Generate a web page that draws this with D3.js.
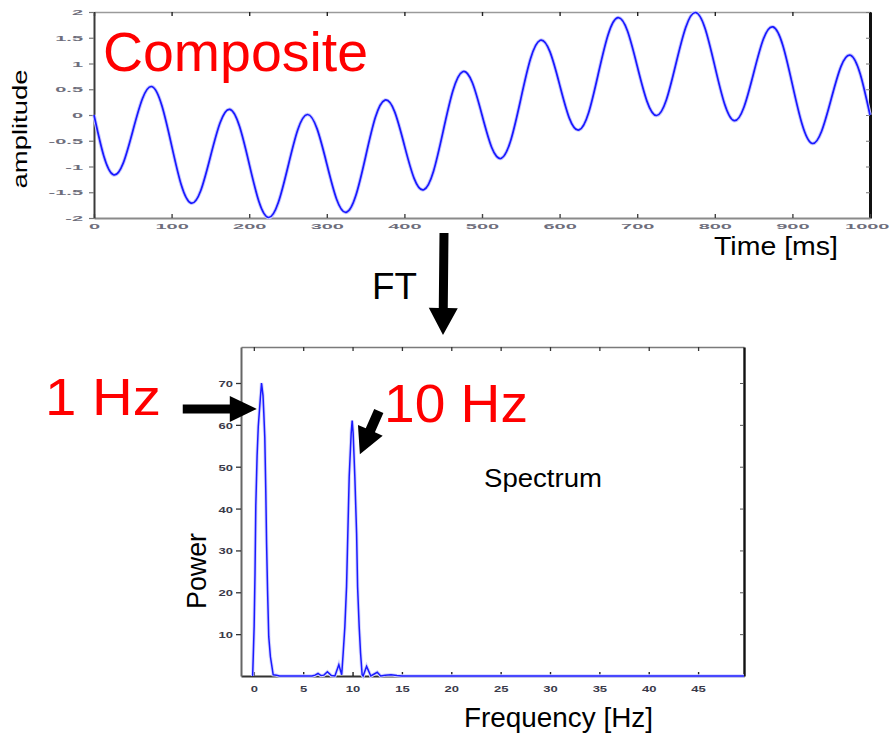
<!DOCTYPE html>
<html>
<head>
<meta charset="utf-8">
<script src="https://cdn.jsdelivr.net/npm/d3@7"></script>
<style>
  body { margin: 0; background: #fff; }
  svg { display: block; }
  text { font-family: "Liberation Sans", Arial, Helvetica, sans-serif; }
</style>
</head>
<body>
<svg id="fig" width="890" height="738"></svg>
<script>
// ---- Composite signal (time domain), sampled every 12.5 ms ----
const timeMs = [
  0, 12.5, 25, 37.5, 50, 62.5, 75, 87.5,
  100, 112.5, 125, 137.5, 150, 162.5, 175, 187.5,
  200, 212.5, 225, 237.5, 250, 262.5, 275, 287.5,
  300, 312.5, 325, 337.5, 350, 362.5, 375, 387.5,
  400, 412.5, 425, 437.5, 450, 462.5, 475, 487.5,
  500, 512.5, 525, 537.5, 550, 562.5, 575, 587.5,
  600, 612.5, 625, 637.5, 650, 662.5, 675, 687.5,
  700, 712.5, 725, 737.5, 750, 762.5, 775, 787.5,
  800, 812.5, 825, 837.5, 850, 862.5, 875, 887.5,
  900, 912.5, 925, 937.5, 950, 962.5, 975, 987.5,
  1000
];
const amplitude = [
  0, -0.79, -1.16, -0.94, -0.31, 0.32, 0.55, 0.18,
  -0.59, -1.36, -1.71, -1.47, -0.81, -0.15, 0.11, -0.22,
  -0.95, -1.68, -1.99, -1.70, -1.00, -0.29, 0.01, -0.27,
  -0.95, -1.63, -1.89, -1.56, -0.81, -0.05, 0.29, 0.06,
  -0.59, -1.23, -1.45, -1.09, -0.31, 0.47, 0.84, 0.63,
  0, -0.63, -0.84, -0.47, 0.31, 1.09, 1.45, 1.23,
  0.59, -0.06, -0.29, 0.05, 0.81, 1.56, 1.89, 1.63,
  0.95, 0.27, -0.01, 0.29, 1.00, 1.70, 1.99, 1.68,
  0.95, 0.22, -0.11, 0.15, 0.81, 1.47, 1.71, 1.36,
  0.59, -0.18, -0.55, -0.32, 0.31, 0.94, 1.16, 0.79,
  0
];
const timeTicks = [0, 100, 200, 300, 400, 500, 600, 700, 800, 900, 1000];
const timeTickLabels = ["0", "100", "200", "300", "400", "500", "600", "700", "800", "900", "1000"];
const ampTicks = [-2, -1.5, -1, -0.5, 0, 0.5, 1, 1.5, 2];
const ampTickLabels = ["-2", "-1.5", "-1", "-0.5", "0", "0.5", "1", "1.5", "2"];

// ---- Power spectrum (frequency domain) ----
const freqHz = [
  -0.12, -0.06, 0.03, 0.12, 0.2, 0.33, 0.45, 0.66, 0.78, 0.93, 1.01, 1.11, 1.21, 1.29, 1.39, 1.51, 1.68, 1.85, 1.96,
  2.3, 2.6, 5.9, 6.2, 6.5, 6.8, 7.1, 7.45, 7.85, 8.21, 8.61, 8.9,
  9.05, 9.22, 9.39, 9.52, 9.66, 9.86, 9.96, 10.06, 10.23, 10.41, 10.51, 10.67, 10.81, 10.97,
  11.07, 11.42, 11.85, 12.5, 12.85, 13.3, 13.9, 14.5, 15.0, 49.65
];
const power = [
  0, 4.6, 11.8, 24.6, 40.8, 52.6, 59.6, 66.4, 70, 67, 62.8, 57, 44.4, 31.8, 20.5, 9.4, 4.6, 2.0, 0.3,
  0.2, 0, 0, 0.2, 0.6, 0.1, 0.2, 1.0, 0.1, 0, 2.7, 0.3,
  5.5, 11.8, 21.3, 34, 47.6, 58, 61, 58, 47.6, 34, 21.3, 11.8, 5.5, 0.3,
  0, 2.3, 0, 0.9, 0, 0.2, 0.3, 0.1, 0, 0
];
const freqTicks = [0, 5, 10, 15, 20, 25, 30, 35, 40, 45];
const freqTickLabels = ["0", "5", "10", "15", "20", "25", "30", "35", "40", "45"];
const powerTicks = [10, 20, 30, 40, 50, 60, 70];
const powerTickLabels = ["10", "20", "30", "40", "50", "60", "70"];

const svg = d3.select("#fig");
svg.append("rect").attr("width", 890).attr("height", 738).attr("fill", "#fff");

// Squashed tick labels: each label is centred on its tick and compressed vertically
function styleLabels(g, dx, dy, sy, anchor, size, fill) {
  g.attr("font-family", null).attr("font-size", null);
  g.selectAll(".tick text")
    .attr("x", 0).attr("y", 0).attr("dy", "0.36em")
    .attr("text-anchor", anchor)
    .attr("transform", `translate(${dx},${dy}) scale(1,${sy})`)
    .attr("font-size", size)
    .attr("font-weight", "bold")
    .attr("fill", fill);
}

// Arrow polygon from tail to tip
function arrowPoints(x0, y0, x1, y1, sw, hw, hl) {
  const L = Math.hypot(x1 - x0, y1 - y0);
  const ux = (x1 - x0) / L, uy = (y1 - y0) / L;
  const nx = -uy, ny = ux;
  const bx = x1 - ux * hl, by = y1 - uy * hl;
  const p = [
    [x0 + nx * sw / 2, y0 + ny * sw / 2],
    [bx + nx * sw / 2, by + ny * sw / 2],
    [bx + nx * hw / 2, by + ny * hw / 2],
    [x1, y1],
    [bx - nx * hw / 2, by - ny * hw / 2],
    [bx - nx * sw / 2, by - ny * sw / 2],
    [x0 - nx * sw / 2, y0 - ny * sw / 2]
  ];
  return p.map(q => q.join(",")).join(" ");
}

// ================= Top panel: composite waveform =================
const xT = d3.scaleLinear().domain([0, 1000]).range([94, 870]);
const yT = d3.scaleLinear().domain([-2, 2]).range([218, 12]);

const topTop = svg.append("g").attr("transform", `translate(0,${yT(2)})`)
  .call(d3.axisTop(xT).tickValues(timeTicks).tickFormat("").tickSizeInner(-4).tickSizeOuter(0));
topTop.select(".domain").attr("stroke", "#9a9a9a").attr("stroke-width", 1.6);
topTop.selectAll(".tick line").attr("stroke", "#222").attr("stroke-width", 1.4);

const topRight = svg.append("g").attr("transform", `translate(${xT(1000)},0)`)
  .call(d3.axisRight(yT).tickValues(ampTicks).tickFormat("").tickSizeInner(-4).tickSizeOuter(0));
topRight.select(".domain").attr("stroke", "#111").attr("stroke-width", 3);
topRight.selectAll(".tick line").attr("stroke", "#777");

const topBottom = svg.append("g").attr("transform", `translate(0,${yT(-2)})`)
  .call(d3.axisBottom(xT).tickValues(timeTicks).tickFormat((d, i) => timeTickLabels[i]).tickSizeInner(-4).tickSizeOuter(0));
topBottom.select(".domain").attr("stroke", "#8a8a8a").attr("stroke-width", 2);
topBottom.selectAll(".tick line").attr("stroke", "#444").attr("stroke-width", 1.4);
styleLabels(topBottom, 0, 8, 0.38, "middle", 20, "#6e6e7c");
// keep the last label inside the figure's right edge
topBottom.selectAll(".tick text").filter(d => d === 1000)
  .attr("text-anchor", "end").attr("transform", "translate(19,8) scale(1,0.38)");

const topLeft = svg.append("g").attr("transform", `translate(${xT(0)},0)`)
  .call(d3.axisLeft(yT).tickValues(ampTicks).tickFormat((d, i) => ampTickLabels[i]).tickSizeInner(5).tickSizeOuter(0));
topLeft.select(".domain").attr("stroke", "#3a3a3a").attr("stroke-width", 2);
topLeft.selectAll(".tick line").attr("stroke", "#777").attr("stroke-width", 1.2);
styleLabels(topLeft, -11, 0, 0.38, "end", 20, "#6e6e7c");

const waveLine = d3.line()
  .x((d, i) => xT(timeMs[i]))
  .y(d => yT(d))
  .curve(d3.curveNatural);

svg.append("path").datum(amplitude)
  .attr("d", waveLine).attr("fill", "none")
  .attr("stroke", "#c6c6ff").attr("stroke-width", 3.6);
svg.append("path").datum(amplitude)
  .attr("d", waveLine).attr("fill", "none")
  .attr("stroke", "#1818ff").attr("stroke-width", 1.7);

svg.append("text").attr("x", 103).attr("y", 71)
  .attr("font-size", 56).attr("fill", "#ff0000")
  .attr("textLength", 265).attr("lengthAdjust", "spacingAndGlyphs")
  .text("Composite");

svg.append("text")
  .attr("transform", "translate(27,129) rotate(-90)")
  .attr("text-anchor", "middle").attr("font-size", 20).attr("fill", "#000")
  .attr("textLength", 119).attr("lengthAdjust", "spacingAndGlyphs")
  .text("amplitude");

svg.append("text").attr("x", 714).attr("y", 255)
  .attr("font-size", 25).attr("fill", "#000")
  .attr("textLength", 124).attr("lengthAdjust", "spacingAndGlyphs")
  .text("Time [ms]");

// ================= Transform annotation =================
svg.append("text").attr("x", 372).attr("y", 299)
  .attr("font-size", 37).attr("fill", "#000")
  .attr("textLength", 45).attr("lengthAdjust", "spacingAndGlyphs")
  .text("FT");
svg.append("polygon").attr("points", arrowPoints(444, 233, 443, 335, 9, 29, 27)).attr("fill", "#000");

// ================= Bottom panel: spectrum =================
const xB = d3.scaleLinear().domain([-1.3, 49.65]).range([241, 744]);
const yB = d3.scaleLinear().domain([0, 78.6]).range([676, 347]);

const botTop = svg.append("g").attr("transform", `translate(0,${yB(78.6)})`)
  .call(d3.axisTop(xB).tickValues(freqTicks).tickFormat("").tickSizeInner(-4).tickSizeOuter(0));
botTop.select(".domain").attr("stroke", "#7a7a7a").attr("stroke-width", 1.6);
botTop.selectAll(".tick line").attr("stroke", "#333").attr("stroke-width", 1.3);

const botRight = svg.append("g").attr("transform", `translate(${xB(49.65)},0)`)
  .call(d3.axisRight(yB).tickValues(powerTicks).tickFormat("").tickSizeInner(-4).tickSizeOuter(0));
botRight.select(".domain").attr("stroke", "#111").attr("stroke-width", 2.4);
botRight.selectAll(".tick line").attr("stroke", "#555");

const botBottom = svg.append("g").attr("transform", `translate(0,${yB(0)})`)
  .call(d3.axisBottom(xB).tickValues(freqTicks).tickFormat((d, i) => freqTickLabels[i]).tickSizeInner(-4).tickSizeOuter(0));
botBottom.select(".domain").attr("stroke", "#333").attr("stroke-width", 2);
botBottom.selectAll(".tick line").attr("stroke", "#222").attr("stroke-width", 1.4);
styleLabels(botBottom, 0, 12, 0.75, "middle", 13, "#3a3a4a");

const botLeft = svg.append("g").attr("transform", `translate(${xB(-1.3)},0)`)
  .call(d3.axisLeft(yB).tickValues(powerTicks).tickFormat((d, i) => powerTickLabels[i]).tickSizeInner(5).tickSizeOuter(0));
botLeft.select(".domain").attr("stroke", "#666").attr("stroke-width", 2);
botLeft.selectAll(".tick line").attr("stroke", "#333").attr("stroke-width", 1.3);
styleLabels(botLeft, -8, 0, 0.75, "end", 13, "#3a3a4a");

const specLine = d3.line()
  .x((d, i) => xB(freqHz[i]))
  .y(d => yB(d));

svg.append("path").datum(power)
  .attr("d", specLine).attr("fill", "none")
  .attr("stroke", "#d4d4ff").attr("stroke-width", 3.4);
svg.append("path").datum(power)
  .attr("d", specLine).attr("fill", "none")
  .attr("stroke", "#1a1aff").attr("stroke-width", 1.5);

svg.append("text").attr("x", 484).attr("y", 487)
  .attr("font-size", 25).attr("fill", "#000")
  .attr("textLength", 118).attr("lengthAdjust", "spacingAndGlyphs")
  .text("Spectrum");

svg.append("text")
  .attr("transform", "translate(206,571) rotate(-90)")
  .attr("text-anchor", "middle").attr("font-size", 27).attr("fill", "#000")
  .attr("textLength", 76).attr("lengthAdjust", "spacingAndGlyphs")
  .text("Power");

svg.append("text").attr("x", 464).attr("y", 727)
  .attr("font-size", 27).attr("fill", "#000")
  .attr("textLength", 189).attr("lengthAdjust", "spacingAndGlyphs")
  .text("Frequency [Hz]");

// Peak call-outs, anchored in spectrum coordinates
svg.append("text").attr("x", 45).attr("y", 415)
  .attr("font-size", 52).attr("fill", "#ff0000")
  .attr("textLength", 116).attr("lengthAdjust", "spacingAndGlyphs")
  .text("1 Hz");
svg.append("polygon")
  .attr("points", arrowPoints(xB(-7.2), yB(63.8), xB(0.3), yB(63.8), 9, 26, 27))
  .attr("fill", "#000");

svg.append("text").attr("x", 384).attr("y", 422)
  .attr("font-size", 54).attr("fill", "#ff0000")
  .attr("textLength", 144).attr("lengthAdjust", "spacingAndGlyphs")
  .text("10 Hz");
svg.append("polygon")
  .attr("points", arrowPoints(xB(12.66), yB(63.3), xB(10.74), yB(53), 10, 27, 26))
  .attr("fill", "#000");
</script>
</body>
</html>
